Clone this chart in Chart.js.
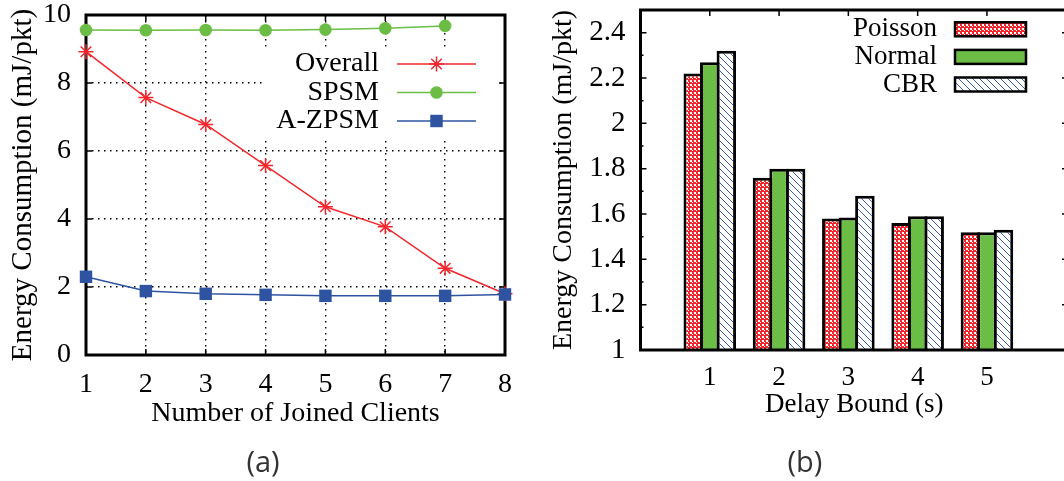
<!DOCTYPE html>
<html>
<head>
<meta charset="utf-8">
<script src="https://cdn.jsdelivr.net/npm/chart.js@4.4.0/dist/chart.umd.min.js"></script>
<style>
  html, body { margin: 0; padding: 0; background: #fff; overflow: hidden; }
  body { width: 1064px; height: 481px; position: relative; }
  .panel { position: absolute; top: 0; }
  .sub { position: absolute; top: 441px; width: 100px; line-height: 40px; text-align: center;
         font-family: 'Open Sans', sans-serif; font-size: 29px; color: #333; }
</style>
</head>
<body>
<div class="panel" style="left:0"><canvas id="clientsChart" width="530" height="481"></canvas></div>
<div class="panel" style="left:530px"><canvas id="delayChart" width="545" height="481"></canvas></div>
<div class="sub" style="left:213px">(a)</div>
<div class="sub" style="left:755px">(b)</div>
<script>
// (a) energy per packet vs. number of joined clients
const clients = ['1', '2', '3', '4', '5', '6', '7', '8'];
const overall = [8.92, 7.57, 6.78, 5.57, 4.36, 3.77, 2.55, 1.80];
const spsm = [9.56, 9.55, 9.56, 9.55, 9.57, 9.61, 9.68];
const azpsm = [2.30, 1.88, 1.80, 1.77, 1.74, 1.74, 1.74, 1.78];
const yTicksA = [0, 2, 4, 6, 8, 10];

// (b) energy per packet vs. delay bound
const delays = [1, 2, 3, 4, 5];
const poisson = [2.22, 1.76, 1.58, 1.56, 1.52];
const normal = [2.27, 1.80, 1.585, 1.59, 1.52];
const cbr = [2.32, 1.80, 1.68, 1.59, 1.53];
const yTicksB = [1, 1.2, 1.4, 1.6, 1.8, 2, 2.2, 2.4];

const RED = '#f0282d';
const GREEN = '#6cbd45';
const BLUE = '#2e54a1';

Chart.defaults.font.family = "'Liberation Serif', 'Times New Roman', serif";
Chart.defaults.color = '#000';

function makePattern(size, paint) {
  const c = document.createElement('canvas');
  c.width = c.height = size;
  paint(c.getContext('2d'), size);
  return c.getContext('2d').createPattern(c, 'repeat');
}

const checkRed = makePattern(4, (g, n) => {
  g.fillStyle = RED;
  g.fillRect(0, 0, n, n);
  g.fillStyle = '#fff';
  g.fillRect(0, 0, 2, 2);
  g.fillRect(2, 2, 1, 1);
});

const hatchBlue = makePattern(7, (g, n) => {
  g.fillStyle = '#fff';
  g.fillRect(0, 0, n, n);
  g.strokeStyle = '#3a5cb0';
  g.lineWidth = 1;
  g.beginPath();
  g.moveTo(-1, -1); g.lineTo(n + 1, n + 1);
  g.moveTo(-1, n - 1); g.lineTo(1, n + 1);
  g.moveTo(n - 1, -1); g.lineTo(n + 1, 1);
  g.stroke();
});

function marker(ctx, style, r, x, y) {
  ctx.beginPath();
  if (style === 'star') {
    const d = r * Math.SQRT1_2;
    ctx.moveTo(x - r, y); ctx.lineTo(x + r, y);
    ctx.moveTo(x, y - r); ctx.lineTo(x, y + r);
    ctx.moveTo(x - d, y - d); ctx.lineTo(x + d, y + d);
    ctx.moveTo(x - d, y + d); ctx.lineTo(x + d, y - d);
    ctx.stroke();
  } else if (style === 'rect') {
    const h = r * Math.SQRT1_2;
    ctx.rect(x - h, y - h, 2 * h, 2 * h);
    ctx.fill();
  } else {
    ctx.arc(x, y, r, 0, Math.PI * 2);
    ctx.fill();
  }
}

// keep the plot box where the layout padding puts it
function fixWidth(w) {
  return s => { s.width = w; s.paddingTop = 0; s.paddingBottom = 0; };
}

// gnuplot-like box with inward ticks
const frameA = {
  id: 'frameA',
  beforeDatasetsDraw(chart) {
    const { ctx, chartArea: a, scales: { x, y } } = chart;
    ctx.save();
    ctx.strokeStyle = '#000';
    ctx.lineWidth = 1.5;
    ctx.beginPath();
    for (let i = 1; i < clients.length - 1; i++) {
      const px = x.getPixelForValue(i);
      ctx.moveTo(px, a.top); ctx.lineTo(px, a.top + 6);
      ctx.moveTo(px, a.bottom); ctx.lineTo(px, a.bottom - 6);
    }
    yTicksA.slice(1, -1).forEach(v => {
      const py = y.getPixelForValue(v);
      ctx.moveTo(a.left, py); ctx.lineTo(a.left + 6, py);
      ctx.moveTo(a.right, py); ctx.lineTo(a.right - 6, py);
    });
    ctx.stroke();
    ctx.lineWidth = 3;
    ctx.strokeRect(a.left, a.top, a.width, a.height);
    ctx.restore();
  }
};

const legendA = {
  id: 'legendA',
  afterDraw(chart) {
    const { ctx, chartArea: a } = chart;
    ctx.save();
    ctx.fillStyle = '#fff';
    ctx.fillRect(263, 49, a.right - 6 - 263, 88);
    ctx.font = "28px 'Liberation Serif'";
    ctx.textAlign = 'right';
    ctx.textBaseline = 'middle';
    chart.data.datasets.forEach((ds, i) => {
      const yy = 64 + i * 28.5;
      ctx.fillStyle = '#000';
      ctx.fillText(ds.label, 379, yy);
      ctx.strokeStyle = ds.borderColor;
      ctx.lineWidth = ds.borderWidth;
      ctx.beginPath();
      ctx.moveTo(397, yy); ctx.lineTo(476, yy);
      ctx.stroke();
      ctx.fillStyle = ds.backgroundColor;
      ctx.lineWidth = ds.pointBorderWidth || 1;
      marker(ctx, ds.pointStyle, ds.pointRadius, 436.5, yy);
    });
    ctx.restore();
  }
};

new Chart(document.getElementById('clientsChart'), {
  type: 'line',
  data: {
    labels: clients,
    datasets: [
      { label: 'Overall', data: overall, borderColor: RED, backgroundColor: RED, borderWidth: 1.5,
        pointStyle: 'star', pointRadius: 7.5, pointBorderWidth: 1.5, order: 3, clip: false },
      { label: 'SPSM', data: spsm, borderColor: GREEN, backgroundColor: GREEN, borderWidth: 1.5,
        pointStyle: 'circle', pointRadius: 6.3, pointBorderWidth: 0, order: 2, clip: false },
      { label: 'A-ZPSM', data: azpsm, borderColor: BLUE, backgroundColor: BLUE, borderWidth: 1.5,
        pointStyle: 'rect', pointRadius: 8.8, pointBorderWidth: 0, order: 1, clip: false }
    ]
  },
  options: {
    responsive: false,
    animation: false,
    layout: { padding: { left: 0, right: 25, top: 15, bottom: 51 } },
    plugins: { legend: { display: false }, tooltip: { enabled: false } },
    scales: {
      x: {
        offset: false,
        grid: { color: '#000', lineWidth: 1.4, drawTicks: false },
        border: { display: false, dash: [1.5, 4.5] },
        ticks: { padding: 13, font: { size: 28 }, maxRotation: 0, autoSkip: false },
        title: { display: true, text: 'Number of Joined Clients', font: { size: 28 }, padding: 0 },
        afterFit: s => { s.height = 75; }
      },
      y: {
        min: 0, max: 10,
        afterBuildTicks: s => { s.ticks = yTicksA.map(v => ({ value: v })); },
        grid: { color: '#000', lineWidth: 1.4, drawTicks: false },
        border: { display: false, dash: [1.5, 4.5] },
        ticks: { padding: 15, font: { size: 28 }, callback: v => String(v) },
        title: { display: true, text: 'Energy Consumption (mJ/pkt)', font: { size: 29 }, padding: { top: 6, bottom: 0 } },
        afterFit: fixWidth(86)
      }
    }
  },
  plugins: [frameA, legendA]
});

const frameB = {
  id: 'frameB',
  afterDatasetsDraw(chart) {
    const { ctx, chartArea: a, scales: { x, y } } = chart;
    ctx.save();
    ctx.strokeStyle = '#000';
    ctx.lineWidth = 1.5;
    ctx.beginPath();
    delays.forEach(v => {
      const px = x.getPixelForValue(v);
      ctx.moveTo(px, a.top); ctx.lineTo(px, a.top + 6);
    });
    yTicksB.forEach(v => {
      const py = y.getPixelForValue(v);
      ctx.moveTo(a.left, py); ctx.lineTo(a.left + 6, py);
      ctx.moveTo(a.right, py); ctx.lineTo(a.right - 6, py);
      const mid = y.getPixelForValue(v + 0.1);
      ctx.moveTo(a.left, mid); ctx.lineTo(a.left + 3, mid);
      ctx.moveTo(a.right, mid); ctx.lineTo(a.right - 3, mid);
    });
    ctx.stroke();
    ctx.lineWidth = 3;
    ctx.strokeRect(a.left, a.top, a.width, a.height);
    ctx.restore();
  }
};

const legendB = {
  id: 'legendB',
  afterDraw(chart) {
    const ctx = chart.ctx;
    ctx.save();
    ctx.font = "27px 'Liberation Serif'";
    ctx.textAlign = 'right';
    ctx.textBaseline = 'middle';
    chart.data.datasets.forEach((ds, i) => {
      const yy = 29.3 + i * 27.6;
      ctx.fillStyle = '#000';
      ctx.fillText(ds.label, 407, yy);
      ctx.fillStyle = ds.backgroundColor;
      ctx.fillRect(425, yy - 7, 71, 14);
      ctx.strokeStyle = '#000';
      ctx.lineWidth = 2.5;
      ctx.strokeRect(425, yy - 7, 71, 14);
    });
    ctx.restore();
  }
};

const barStyle = { borderColor: '#000', borderWidth: 3, categoryPercentage: 0.716, barPercentage: 1.18 };

new Chart(document.getElementById('delayChart'), {
  type: 'bar',
  data: {
    datasets: [
      { label: 'Poisson', data: delays.map((d, i) => ({ x: d, y: poisson[i] })), backgroundColor: checkRed, ...barStyle },
      { label: 'Normal', data: delays.map((d, i) => ({ x: d, y: normal[i] })), backgroundColor: GREEN, ...barStyle },
      { label: 'CBR', data: delays.map((d, i) => ({ x: d, y: cbr[i] })), backgroundColor: hatchBlue, ...barStyle }
    ]
  },
  options: {
    responsive: false,
    animation: false,
    layout: { padding: { left: 0, right: 7, top: 10, bottom: 60 } },
    plugins: { legend: { display: false }, tooltip: { enabled: false } },
    scales: {
      x: {
        type: 'linear', min: 0, max: 6.17, offset: false,
        afterBuildTicks: s => { s.ticks = delays.map(v => ({ value: v })); },
        grid: { display: false, offset: false, drawTicks: false },
        border: { display: false },
        ticks: { padding: 12, font: { size: 27 }, callback: v => String(v) },
        title: { display: true, text: 'Delay Bound (s)', font: { size: 27 }, padding: 0 },
        afterFit: s => { s.height = 71; s.paddingLeft = 0; s.paddingRight = 0; }
      },
      y: {
        min: 1, max: 2.5,
        afterBuildTicks: s => { s.ticks = yTicksB.map(v => ({ value: v })); },
        grid: { display: false, drawTicks: false },
        border: { display: false },
        ticks: { padding: 15, font: { size: 29 }, callback: v => String(v) },
        title: { display: true, text: 'Energy Consumption (mJ/pkt)', font: { size: 28 }, padding: { top: 17, bottom: 0 } },
        afterFit: fixWidth(110.5)
      }
    }
  },
  plugins: [frameB, legendB]
});
</script>
</body>
</html>
